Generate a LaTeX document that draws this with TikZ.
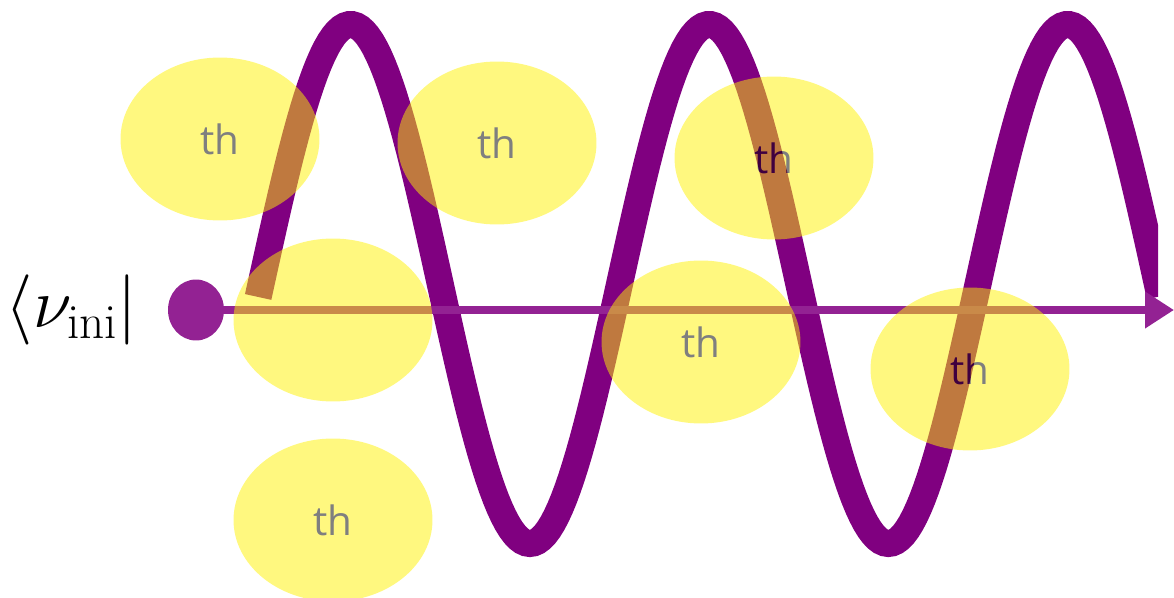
\RequirePackage{fix-cm}
\documentclass[tikz,border=0pt]{standalone}
\usepackage{fontspec}
\newfontfamily\thfont{Open Sans}
\usetikzlibrary{arrows.meta,positioning,shapes.geometric}
\definecolor{wavepurple}{RGB}{128,0,128}
\definecolor{axispurple}{RGB}{147,34,147}
\begin{document}
\begin{tikzpicture}[x=0.02cm,y=-0.02cm,
  wave/.style={line width=0.54cm,draw=wavepurple},
  axis/.style={line width=0.16cm,draw=axispurple,-{Triangle[length=0.58cm,width=0.7cm]}},
  thspot/.style={ellipse,fill=yellow,inner sep=0pt,minimum width=3.98cm,minimum height=3.26cm,font=\fontsize{23}{28}\thfont}]
  \useasboundingbox (0,0) rectangle (1174,598);
  % the oscillation
  \begin{scope}
    \clip (0,0) rectangle (1158,598);
    \draw[wave] plot[domain=-0.05:15.758,samples=240] ({261+57.06*\x},{284-259.5*sin(\x r)});
  \end{scope}
  % initial state and time axis
  \node[ellipse,fill=axispurple,inner sep=0pt,minimum width=1.12cm,minimum height=1.22cm] (ini) at (196,310) {};
  \node[left=0.6cm of ini,inner sep=0pt,font=\fontsize{40}{48}\selectfont] (bra) {$\langle\nu_{\mathrm{ini}}|$};
  \coordinate (tip) at (1174,310);
  \draw[axis] (ini.east) -- (tip);
  % thermal spots (the one on the axis carries no label)
  \begin{scope}[transparency group,opacity=0.5]
    \foreach \x/\y/\t [count=\i] in {220/139/th,497/143/th,774/158/th,333/320/,701/342/th,970/369/th,333/520/th} {
      \node[thspot] (th\i) at (\x,\y) {\t};
    }
  \end{scope}
\end{tikzpicture}
\end{document}
